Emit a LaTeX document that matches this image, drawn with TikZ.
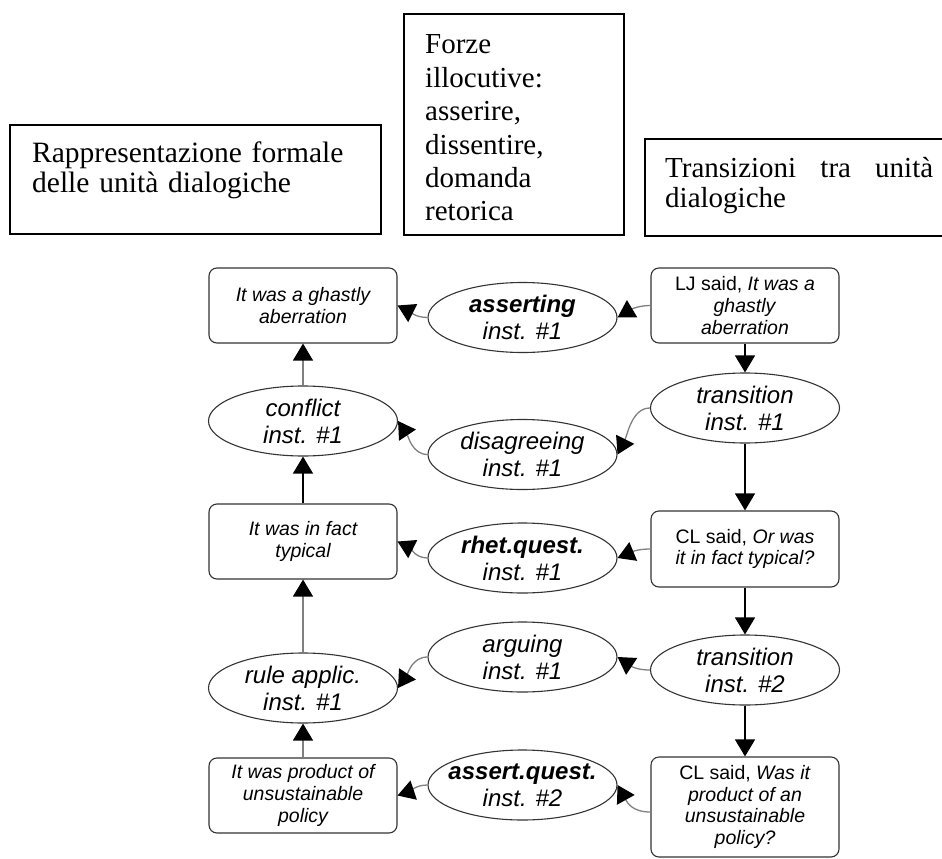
\documentclass[tikz,border=0pt]{standalone}
\usepackage{fontspec}
\setmainfont{Liberation Serif}
\newfontfamily\diagfont{Liberation Sans}
\usetikzlibrary{shapes.geometric,arrows.meta}

\begin{document}
\begin{tikzpicture}[x=1pt,y=-1pt,
  topbox/.style={draw=black, line width=1.4pt, inner sep=0pt},
  toptext/.style={inner sep=0pt, anchor=base west, align=left},
  rbox/.style={draw=black!80, line width=1.1pt, rounded corners=8pt,
    minimum width=188pt, minimum height=75pt, inner sep=0pt, align=center,
    font=\diagfont\fontsize{19.5}{21.7}\selectfont},
  ell/.style={ellipse, draw=black!80, line width=1.1pt,
    minimum width=189pt, minimum height=70pt, inner sep=0pt},
  elltext/.style={align=center, inner sep=0pt,
    font=\diagfont\fontsize{24}{27}\selectfont\itshape},
  tip/.style={-{Triangle[length=17pt,width=20pt,color=black]}},
  hconn/.style={draw=gray, line width=1.3pt, tip},
  vconn/.style={draw=black, line width=1.3pt, tip},
  vgray/.style={draw=gray, line width=1.3pt, tip}]

\useasboundingbox (0,0) rectangle (942,859);

% column headings
\node[topbox, minimum width=371pt, minimum height=109pt] (boxA) at (195.5,179.5) {};
\node[topbox, minimum width=220pt, minimum height=221pt] (boxB) at (514,124.5) {};
\node[topbox, minimum width=315pt, minimum height=97pt] (boxC) at (802.5,187.5) {};

\node[toptext, text width=340pt, font=\fontsize{29.5}{30}\selectfont] (txtA) at (32,162)
  {Rappresentazione formale\\delle unità dialogiche};
\node[toptext, text width=190pt, font=\fontsize{29}{33.4}\selectfont] (txtB) at (425,54)
  {Forze\\illocutive:\\asserire,\\dissentire,\\domanda\\retorica};
\node[toptext, text width=268pt, font=\fontsize{29}{30}\selectfont] (txtC) at (665,177)
  {\makebox[268pt][l]{Transizioni\hfill tra\hfill unità}\\dialogiche};

% left column: formal representation
\node[rbox, font=\diagfont\fontsize{19.5}{21.7}\selectfont\itshape] (r1) at (303,305.5)
  {It was a ghastly\\aberration};
\node[ell, label={[elltext]center:{conflict\\inst. \#1}}] (e1) at (303,421) {};
\node[rbox, font=\diagfont\fontsize{19.5}{21.7}\selectfont\itshape] (r2) at (303,541.5)
  {It was in fact\\typical};
\node[ell, label={[elltext]center:{rule applic.\\inst. \#1}}] (e2) at (303,688) {};
\node[rbox, font=\diagfont\fontsize{19.5}{21.7}\selectfont\itshape] (r3) at (303,795.5)
  {It was product of\\unsustainable\\policy};

% middle column: illocutionary forces
\node[ell, label={[elltext]center:{\textbf{asserting}\\inst. \#1}}] (as) at (522.5,317.5) {};
\node[ell, label={[elltext]center:{disagreeing\\inst. \#1}}] (dis) at (522.5,454.5) {};
\node[ell, label={[elltext]center:{\textbf{rhet.quest.}\\inst. \#1}}] (rq) at (522.5,558) {};
\node[ell, label={[elltext]center:{arguing\\inst. \#1}}] (ag) at (522.5,657) {};
\node[ell, label={[elltext]center:{\textbf{assert.quest.}\\inst. \#2}}] (aq) at (522.5,785) {};

% right column: dialogue and transitions
\node[rbox] (lj) at (745,305.5)
  {LJ said, \textit{It was a}\\\textit{ghastly}\\\textit{aberration}};
\node[ell, label={[elltext]center:{transition\\inst. \#1}}] (t1) at (745,408) {};
\node[rbox, minimum height=76pt] (cl1) at (745,549)
  {CL said, \textit{Or was}\\\textit{it in fact typical?}};
\node[ell, label={[elltext]center:{transition\\inst. \#2}}] (t2) at (745,670) {};
\node[rbox, minimum height=100pt] (cl2) at (745,807)
  {CL said, \textit{Was it}\\\textit{product of an}\\\textit{unsustainable}\\\textit{policy?}};

% vertical flow, right column
\draw[vconn] (lj.south) -- (t1.north);
\draw[vconn] (t1.south) -- (cl1.north);
\draw[vconn] (cl1.south) -- (t2.north);
\draw[vconn] (t2.south) -- (cl2.north);

% vertical flow, left column
\draw[vgray] (e1.north) -- (r1.south);
\draw[vconn] (r2.north) -- (e1.south);
\draw[vgray] (e2.north) -- (r2.south);
\draw[vgray] (r3.north) -- (e2.south);

% horizontal links
\draw[hconn] (lj.west) .. controls +(-15,0) and +(10,-6) .. (as.east);
\draw[hconn] (as.west) .. controls +(-12,0) and +(12,6) .. (r1.east);
\draw[hconn] (t1.west) .. controls +(-18,0) and +(10,-20) .. (dis.east);
\draw[hconn] (dis.west) .. controls +(-15,0) and +(10,15) .. (e1.east);
\draw[hconn] (cl1.west) .. controls +(-15,0) and +(12,-5) .. (rq.east);
\draw[hconn] (rq.west) .. controls +(-12,0) and +(12,6) .. (r2.east);
\draw[hconn] (t2.west) .. controls +(-15,0) and +(12,8) .. (ag.east);
\draw[hconn] (ag.west) .. controls +(-15,0) and +(10,-15) .. (e2.east);
\draw[hconn] ([yshift=-5pt]cl2.west) .. controls +(-18,0) and +(10,18) .. (aq.east);
\draw[hconn] (aq.west) .. controls +(-12,0) and +(12,-4) .. (r3.east);
\end{tikzpicture}
\end{document}
